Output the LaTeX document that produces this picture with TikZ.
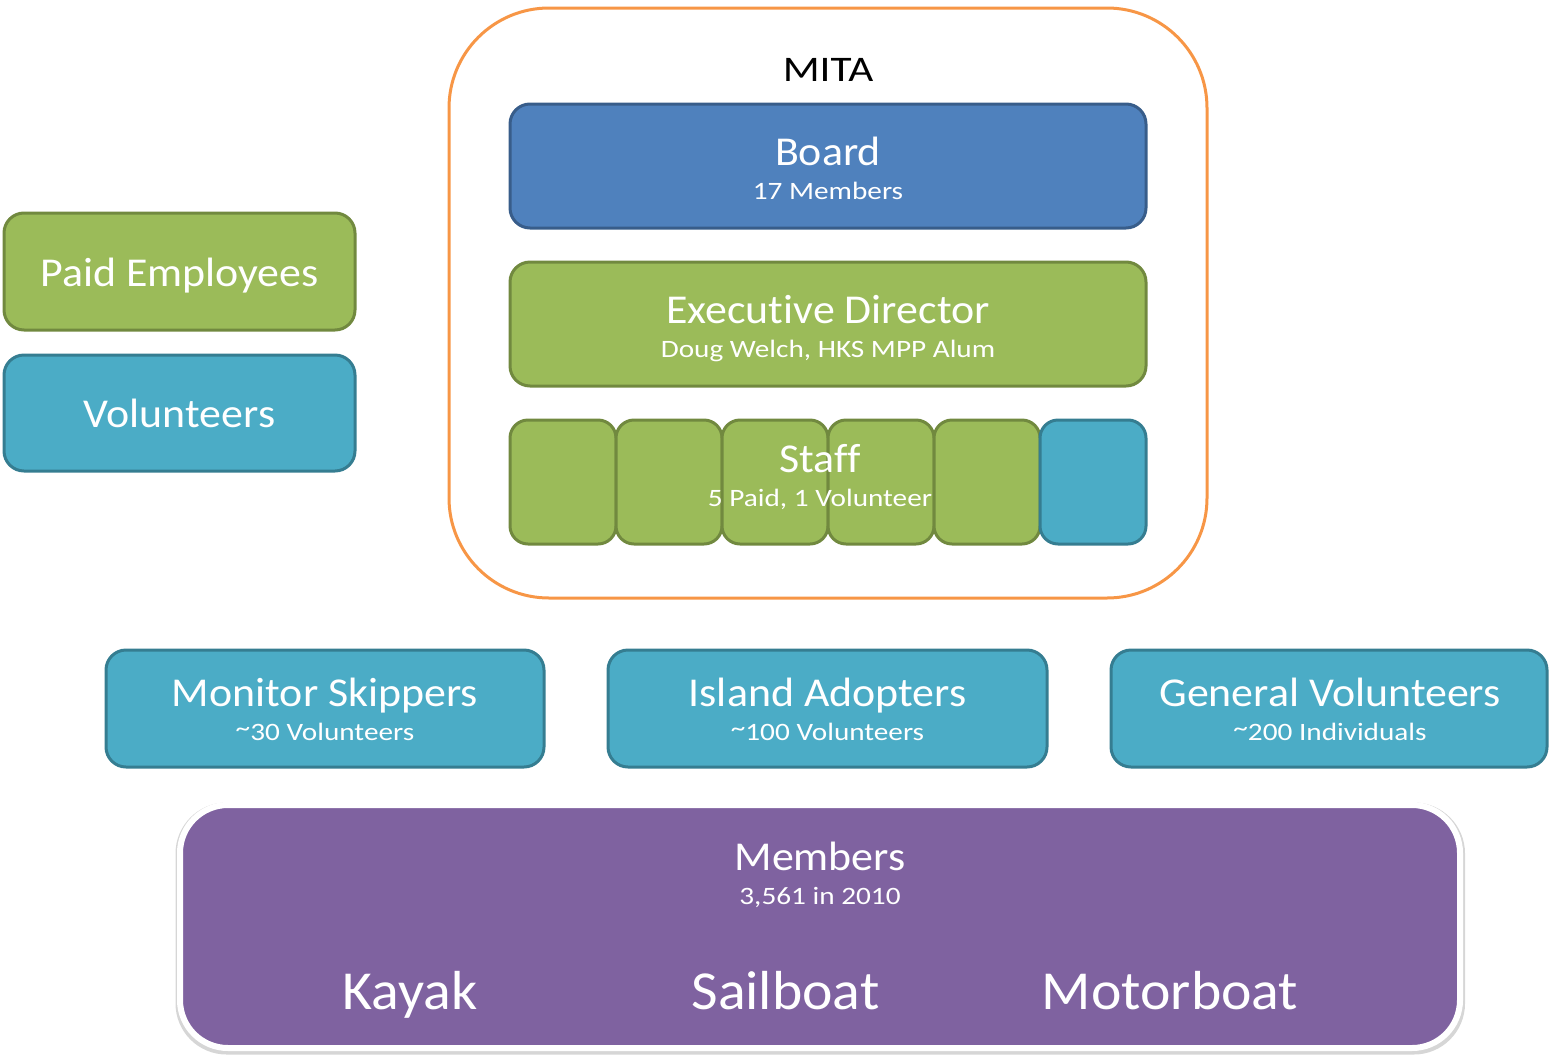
\documentclass[tikz,border=0pt]{standalone}
\usepackage{fontspec}
\setmainfont{Carlito}
\newfontfamily\headfont[FakeStretch=1.07,Ligatures=NoCommon]{Carlito}
\newfontfamily\notefont[FakeStretch=1.17,Ligatures=NoCommon]{Carlito}
\newfontfamily\wordfont[FakeStretch=1.05]{Carlito}
\newfontfamily\mitafont[FakeStretch=1.2]{Carlito}
\newcommand{\approxsign}{\raisebox{4pt}{\textasciitilde}}
\begin{document}
\definecolor{mitaorange}{HTML}{F79646}
\definecolor{boardblue}{HTML}{4F81BD}
\definecolor{boardedge}{HTML}{385D8A}
\definecolor{leafgreen}{HTML}{9BBB59}
\definecolor{leafedge}{HTML}{71893F}
\definecolor{aqua}{HTML}{4BACC6}
\definecolor{aquaedge}{HTML}{357D91}
\definecolor{plum}{HTML}{7F62A0}
\begin{tikzpicture}[x=1pt,y=-1pt,
  box/.style={rectangle,rounded corners=20pt,line width=3pt,inner sep=0pt,outer sep=0pt},
  greenbox/.style={box,fill=leafgreen,draw=leafedge},
  aquabox/.style={box,fill=aqua,draw=aquaedge},
  bluebox/.style={box,fill=boardblue,draw=boardedge},
  title/.style={anchor=base,text=white,font=\headfont\fontsize{41}{41}\selectfont,inner sep=0pt},
  subtitle/.style={anchor=base,text=white,font=\notefont\fontsize{25}{25}\selectfont,inner sep=0pt},
  bigword/.style={anchor=base,text=white,font=\wordfont\fontsize{55}{55}\selectfont,inner sep=0pt}]
\useasboundingbox (0,0) rectangle (1549,1055);

% outer MITA frame
\draw[mitaorange,line width=3pt,rounded corners=100pt] (449,8) rectangle (1207,598);
\node[anchor=base,font=\mitafont\fontsize{36}{36}\selectfont,inner sep=0pt] (mita) at (828,81) {MITA};

% board
\node[bluebox,minimum width=636pt,minimum height=124pt] (board) at (828,166) {};
\node[title] (boardT) at (828,165) {Board};
\node[subtitle] (boardS) at (828,199) {17 Members};

% executive director
\node[greenbox,minimum width=636pt,minimum height=124pt] (exec) at (828,324) {};
\node[title] (execT) at (828,323) {Executive Director};
\node[subtitle] (execS) at (828,357) {Doug Welch, HKS MPP Alum};

% staff row
\foreach \i/\cx in {1/563,2/669,3/775,4/881,5/987}{
  \node[greenbox,rounded corners=18pt,minimum width=106pt,minimum height=124pt] (staff\i) at (\cx,482) {};
}
\node[aquabox,rounded corners=18pt,minimum width=106pt,minimum height=124pt] (staff6) at (1093,482) {};
\node[title] (staffT) at (820,472) {Staff};
\node[subtitle] (staffS) at (820,506) {5 Paid, 1 Volunteer};

% legend
\node[greenbox,minimum width=351pt,minimum height=117pt] (paid) at (179.5,271.5) {};
\node[title] (paidT) at (179.5,286) {Paid Employees};
\node[aquabox,minimum width=351pt,minimum height=116pt] (vol) at (179.5,413) {};
\node[title] (volT) at (179.5,427) {Volunteers};

% volunteer groups
\node[aquabox,minimum width=438pt,minimum height=117pt] (skip) at (325,708.5) {};
\node[title] (skipT) at (325,706) {Monitor Skippers};
\node[subtitle] (skipS) at (325,740) {\approxsign 30 Volunteers};

\node[aquabox,minimum width=439pt,minimum height=117pt] (isl) at (827.5,708.5) {};
\node[title] (islT) at (827.5,706) {Island Adopters};
\node[subtitle] (islS) at (827.5,740) {\approxsign 100 Volunteers};

\node[aquabox,minimum width=436pt,minimum height=117pt] (gen) at (1329,708.5) {};
\node[title] (genT) at (1330,706) {General Volunteers};
\node[subtitle] (genS) at (1330,740) {\approxsign 200 Individuals};

% members, with a soft shadow behind its white rim
\fill[black!16,rounded corners=51pt] (175.5,802.5) rectangle (1465,1054.5);
\node[rectangle,rounded corners=48pt,fill=plum,draw=white,line width=6pt,
  minimum width=1280pt,minimum height=243pt,inner sep=0pt] (members) at (820,926.5) {};
\node[title] (memT) at (820,870) {Members};
\node[subtitle] (memS) at (820,904) {3,561 in 2010};
\node[bigword] (kayak) at (410,1009) {Kayak};
\node[bigword] (sail) at (785.5,1009) {Sailboat};
\node[bigword] (motor) at (1170,1009) {Motorboat};
\end{tikzpicture}
\end{document}
